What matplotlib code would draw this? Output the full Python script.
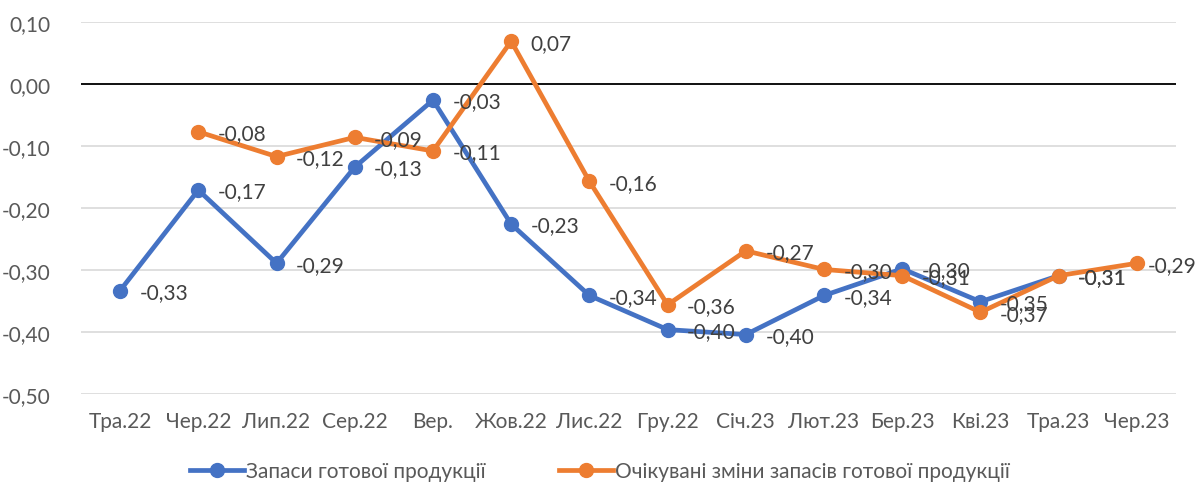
import numpy as np
import matplotlib
matplotlib.use("Agg")
from matplotlib import pyplot as plt

plt.rcParams['font.family'] = ['Lato', 'DejaVu Sans']

months = ['Тра.22', 'Чер.22', 'Лип.22', 'Сер.22', 'Вер.', 'Жов.22', 'Лис.22',
          'Гру.22', 'Січ.23', 'Лют.23', 'Бер.23', 'Кві.23', 'Тра.23', 'Чер.23']
stocks = [-0.333, -0.171, -0.289, -0.134, -0.026, -0.226, -0.341,
          -0.396, -0.404, -0.341, -0.298, -0.351, -0.309, np.nan]
expected = [np.nan, -0.077, -0.117, -0.086, -0.108, 0.069, -0.157,
            -0.356, -0.269, -0.299, -0.309, -0.368, -0.309, -0.289]
yticks = [-0.5, -0.4, -0.3, -0.2, -0.1, 0.0, 0.1]
names = ['Запаси готової продукції', 'Очікувані зміни запасів готової продукції']
colors = ['#4472C4', '#ED7D31']
grey = '#595959'


def fmt(v):
    return f'{round(v, 2) + 0.0:.2f}'.replace('.', ',')


fig = plt.figure(figsize=(12, 4.89), dpi=100)
ax = fig.add_axes([0.0675, 0.192, 0.9125, 0.761])

x = np.arange(len(months))
for vals, name, c in zip([stocks, expected], names, colors):
    ax.plot(x, vals, color=c, lw=3.4, marker='o', ms=10, label=name, zorder=3)
    for xi, v in zip(x, vals):
        if np.isnan(v):
            continue
        # last label is squeezed against the right edge, like in excel
        dx = 8 if xi == len(months) - 1 else 14
        ax.annotate(fmt(v), (xi, v), xytext=(dx, -1),
                    textcoords='offset points', ha='left', va='center',
                    fontsize=15, color='#404040', zorder=4, annotation_clip=False)

ax.set_xlim(-0.5, len(months) - 0.5)
ax.set_ylim(-0.5, 0.1)
ax.set_yticks(yticks)
ax.set_yticklabels([fmt(t) for t in yticks])
ax.set_xticks(x)
ax.set_xticklabels(months)
ax.tick_params(length=0, labelsize=15, colors=grey)
ax.tick_params(axis='x', pad=12)
ax.tick_params(axis='y', pad=22)
ax.grid(axis='y', color='#d9d9d9', lw=1.2)
ax.axhline(0, color='black', lw=1.3, zorder=2)
ax.set_axisbelow(True)
for s in ax.spines.values():
    s.set_visible(False)

fig.legend(loc='lower center', bbox_to_anchor=(0.5, -0.025), ncol=2, frameon=False,
           fontsize=15, labelcolor=grey, handlelength=2.6, handletextpad=0.1,
           columnspacing=3.5)

fig.savefig('out.png', dpi=100)
